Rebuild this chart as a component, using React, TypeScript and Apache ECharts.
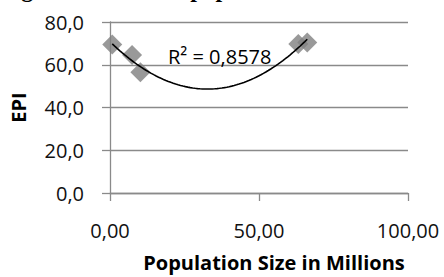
import React, { useEffect, useRef } from "react";
import * as echarts from "echarts";

const populationMillions = [0.76, 7.4, 10.2, 63.2, 66.2];
const epiValues = [69.5, 64.6, 56.5, 69.7, 70.4];
const xTicks = { min: 0, max: 100, interval: 50 };
const yTicks = { min: 0, max: 80, interval: 20 };
const r2Label = "R² = 0,8578";
const titleText = "Figure 3: EPI and population size";
const xAxisTitle = "Population Size in Millions";
const yAxisTitle = "EPI";

function fitQuadratic(xs: number[], ys: number[]) {
  // least squares y = a + b x + c x^2
  const n = xs.length;
  const s = [0, 0, 0, 0, 0];
  const t = [0, 0, 0];
  for (let i = 0; i < n; i++) {
    let p = 1;
    for (let k = 0; k < 5; k++) {
      s[k] += p;
      if (k < 3) t[k] += p * ys[i];
      p *= xs[i];
    }
  }
  const M = [
    [s[0], s[1], s[2], t[0]],
    [s[1], s[2], s[3], t[1]],
    [s[2], s[3], s[4], t[2]],
  ];
  for (let c = 0; c < 3; c++) {
    let piv = c;
    for (let r = c + 1; r < 3; r++) if (Math.abs(M[r][c]) > Math.abs(M[piv][c])) piv = r;
    [M[c], M[piv]] = [M[piv], M[c]];
    for (let r = 0; r < 3; r++) {
      if (r === c) continue;
      const f = M[r][c] / M[c][c];
      for (let k = c; k < 4; k++) M[r][k] -= f * M[c][k];
    }
  }
  return [M[0][3] / M[0][0], M[1][3] / M[1][1], M[2][3] / M[2][2]];
}

export default function App() {
  const ref = useRef<HTMLDivElement>(null);
  useEffect(() => {
    if (!ref.current) return;
    const chart = echarts.init(ref.current, undefined, { renderer: "svg" });
    const [a, b, c] = fitQuadratic(populationMillions, epiValues);
    const xMin = Math.min(...populationMillions);
    const xMax = Math.max(...populationMillions);
    const trend: number[][] = [];
    const steps = 80;
    for (let i = 0; i <= steps; i++) {
      const x = xMin + ((xMax - xMin) * i) / steps;
      trend.push([x, a + b * x + c * x * x]);
    }
    const gridColor = "#8a8a8a";
    const font = "'Open Sans', sans-serif";
    chart.setOption({
      animation: false,
      grid: { left: 106, right: 36, top: 22, bottom: 80, containLabel: false },
      xAxis: {
        type: "value",
        min: xTicks.min,
        max: xTicks.max,
        interval: xTicks.interval,
        name: xAxisTitle,
        nameLocation: "middle",
        nameGap: 59,
        nameTextStyle: {
          fontFamily: font,
          fontWeight: "bold",
          fontSize: 20,
          color: "#000",
          padding: [0, 0, 0, 30],
        },
        axisLine: { show: true, lineStyle: { color: gridColor, width: 1.3 } },
        axisTick: { show: true, length: 8, lineStyle: { color: gridColor, width: 1.3 } },
        splitLine: { show: false },
        axisLabel: {
          margin: 27,
          fontFamily: font,
          fontSize: 20,
          color: "#111",
          formatter: (v: number) => v.toFixed(2).replace(".", ","),
        },
      },
      yAxis: {
        type: "value",
        min: yTicks.min,
        max: yTicks.max,
        interval: yTicks.interval,
        name: yAxisTitle,
        nameLocation: "middle",
        nameGap: 82,
        nameRotate: 90,
        nameTextStyle: { fontFamily: font, fontWeight: "bold", fontSize: 20, color: "#000" },
        axisLine: { show: true, lineStyle: { color: gridColor, width: 1.3 } },
        axisTick: { show: true, length: 8, lineStyle: { color: gridColor, width: 1.3 } },
        splitLine: { show: true, lineStyle: { color: gridColor, width: 1.3 } },
        axisLabel: {
          margin: 26,
          fontFamily: font,
          fontSize: 20,
          color: "#111",
          formatter: (v: number) => v.toFixed(1).replace(".", ","),
        },
      },
      graphic: [
        {
          type: "text",
          left: 0,
          y: -11,
          style: {
            text: titleText,
            font: "bold 24px 'Liberation Serif', serif",
            fill: "#000",
            verticalAlign: "middle",
          },
        },
        {
          type: "text",
          x: 168,
          y: 56,
          z: 10,
          style: {
            text: r2Label,
            font: "20px 'Open Sans', sans-serif",
            fill: "#000",
            verticalAlign: "middle",
          },
        },
      ],
      series: [
        {
          type: "scatter",
          data: populationMillions.map((x, i) => [x, epiValues[i]]),
          symbol: "diamond",
          symbolSize: 20,
          itemStyle: { color: "#7f7f7f" },
          z: 2,
        },
        {
          type: "line",
          data: trend,
          showSymbol: false,
          smooth: false,
          lineStyle: { color: "#000", width: 1.6 },
          z: 3,
        },
      ],
    });
    return () => chart.dispose();
  }, []);
  return (
    <div
      ref={ref}
      style={{ position: "absolute", left: 0, top: 0, width: 444, height: 277 }}
    />
  );
}
